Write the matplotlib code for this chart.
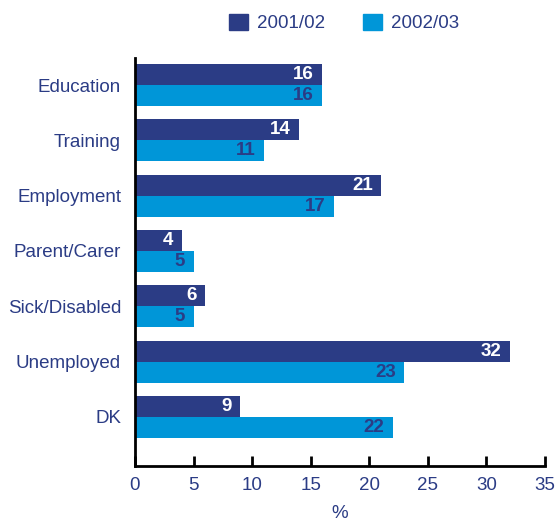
import matplotlib
matplotlib.use("Agg")
import matplotlib.pyplot as plt
from matplotlib.patches import Patch
import numpy as np

categories = ["Education", "Training", "Employment", "Parent/Carer",
              "Sick/Disabled", "Unemployed", "DK"]
series_names = ["2001/02", "2002/03"]
values_2001 = [16, 14, 21, 4, 6, 32, 9]
values_2002 = [16, 11, 17, 5, 5, 23, 22]
xticks = [0, 5, 10, 15, 20, 25, 30, 35]

DARK = "#2B3C85"
LIGHT = "#0096D8"
TXT = "#2B3C85"
FS = 13.5

plt.rcParams['font.family'] = ['Liberation Sans', 'DejaVu Sans']

fig = plt.figure(figsize=(5.56, 5.21), dpi=100)
ax = fig.add_axes([135/556, 1-466/521, 410/556, (466-58)/521])

y = np.arange(len(categories))
h = 0.38
b1 = ax.barh(y - h/2, values_2001, height=h, color=DARK, label=series_names[0])
b2 = ax.barh(y + h/2, values_2002, height=h, color=LIGHT, label=series_names[1])

for rect, v in zip(b1, values_2001):
    ax.annotate(str(v), (rect.get_width(), rect.get_y() + rect.get_height()/2),
                xytext=(-6, 0), textcoords="offset points", ha="right", va="center",
                color="white", fontsize=FS, fontweight="bold")
for rect, v in zip(b2, values_2002):
    ax.annotate(str(v), (rect.get_width(), rect.get_y() + rect.get_height()/2),
                xytext=(-6, 0), textcoords="offset points", ha="right", va="center",
                color=TXT, fontsize=FS, fontweight="bold")

ax.set_xlim(0, 35)
ax.set_ylim(6.89, -0.49)
ax.set_xticks(xticks)
ax.set_xticklabels([str(t) for t in xticks])
ax.set_yticks(y)
ax.set_yticklabels(categories)
ax.tick_params(axis="y", length=0, pad=10, labelsize=FS, labelcolor=TXT)
ax.tick_params(axis="x", direction="in", length=7, width=2, color="black",
               pad=8, labelsize=FS, labelcolor=TXT)
for s in ["top", "right"]:
    ax.spines[s].set_visible(False)
for s in ["left", "bottom"]:
    ax.spines[s].set_linewidth(2)
    ax.spines[s].set_color("black")
ax.set_xlabel("%", fontsize=FS, color=TXT, labelpad=8)

handles = [Patch(color=DARK, label=series_names[0]), Patch(color=LIGHT, label=series_names[1])]
fig.legend(handles=handles, loc="center", bbox_to_anchor=(344/556, 1-23/521), ncol=2,
           frameon=False, fontsize=FS, handlelength=1.0, handleheight=1.0,
           handletextpad=0.5, columnspacing=2.0, labelcolor=TXT)

fig.savefig("out.png", dpi=100)
